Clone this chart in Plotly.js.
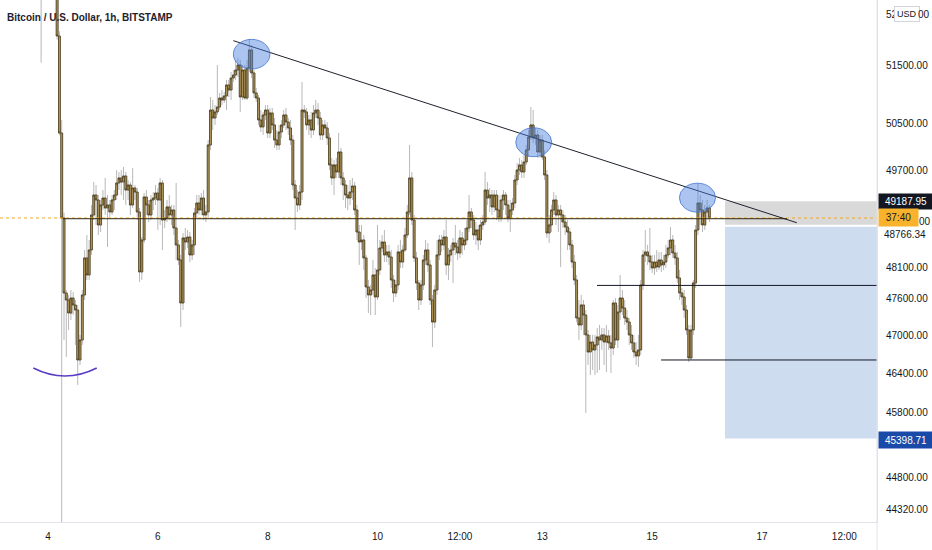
<!DOCTYPE html>
<html>
<head>
<meta charset="utf-8">
<script src="https://cdn.plot.ly/plotly-3.0.1.min.js"></script>
<style>html,body{margin:0;padding:0;background:#fff;}#chart{width:932px;height:550px;}</style>
</head>
<body>
<div id="chart"></div>
<script>
// Hourly bars, BTC/USD Bitstamp, starting 2021-12-03 16:00 (one bar per hour)
const firstBar = '2021-12-03T16:00:00Z';

const open = [53900,53800,53500,53200,53400,53300,53100,53000,52900,53500,53700,53300,
53200,52016,50338,48912,47688,47575,47366,47607,47495,47414,46620,46936,47656,48256,47979,48386,
48962,49294,49211,48797,49128,49244,49078,49128,49012,49211,49294,49495,49579,49511,49612,49377,
49461,49128,49411,49344,49012,48028,48550,49261,49128,48962,49211,49244,49327,49211,49495,48879,
48912,49095,48962,49045,48747,48468,48223,47527,48583,48517,48599,48305,48468,48995,49161,49045,
49244,48962,49012,50135,50731,50594,50697,50783,50937,50903,50972,51162,51075,51283,51335,51422,
51509,50955,51422,50937,51457,51771,51370,51024,50937,50560,50441,50646,50731,50338,50680,50475,
50219,50135,50355,50475,50646,50526,50424,50219,49461,49244,49128,49344,50731,50697,50475,50560,
50389,50680,50731,50594,50304,50475,50424,50253,49797,49579,49797,49679,50016,49579,49461,49294,
49244,49344,49444,49045,48681,48517,48550,48256,47785,47656,47736,47979,47624,48060,48419,48517,
48305,48354,48272,47898,47688,47817,48354,48190,48386,48632,49012,49579,48879,48256,47850,47575,
47817,48223,48386,48142,47575,47222,47736,48305,48550,48468,48599,48142,48305,48386,48501,48435,
48337,48583,48468,48550,48747,49012,48879,48632,48714,48550,48797,48846,49377,49244,49294,49095,
49294,49045,48912,49211,49294,49128,48912,49045,49161,49545,49712,49797,49679,49847,50050,50270,
50475,50253,50304,50016,50219,49932,49629,48665,48797,49045,49211,48962,49045,48962,48846,48764,
48681,48468,48190,47898,47286,47175,47495,47334,47016,46746,46904,46778,46857,46984,46936,47016,
46904,47000,46889,46809,47527,46936,47382,47607,47446,47286,47222,47016,46889,46746,46683,46778,
47817,48305,48354,48288,48190,48093,48190,48109,48223,48142,48190,48305,48419,48550,48337,48256,
47930,47688,47624,47414,47095,46652,47095,47850,48714,49161,49045,48797,49012,49078];

const high = [54200,54000,53700,53600,53700,53500,53400,53300,53600,53900,53800,53500,
53400,52100,50560,49000,47736,47656,47736,47704,47575,47495,47016,47736,48386,48632,48550,49128,
49511,49461,49294,49211,49377,49579,49294,49211,49294,49377,49712,49679,49712,49763,49679,49545,
49511,49746,49461,49411,49078,48600,49330,49377,49211,49294,49344,49461,49411,49579,49545,49045,
49211,49294,49128,49128,49495,48550,48305,48665,48747,48714,48681,48550,49078,49294,49294,49327,
49377,49128,50219,50955,50903,50817,51509,51024,51075,51041,51248,51248,51387,51422,51596,51631,
51596,51509,51509,51596,51964,51858,51422,51110,50989,50731,50697,50817,50817,50766,50766,50594,
50389,50475,50560,50731,50766,50594,50560,50304,49545,49377,49461,51214,50817,50766,50646,50697,
50817,50903,50852,50697,50560,50560,50526,50338,49915,49881,49915,50338,50084,49679,49545,49461,
49545,49579,49511,49128,48797,48797,48632,48305,47898,47817,48223,48093,48797,48550,48632,48714,
48468,48468,48386,47979,47898,48468,48550,48468,48747,49128,50135,49679,48962,48354,47898,47898,
48305,48550,48501,48223,47656,47817,48550,48632,48632,48714,48879,48419,48468,48583,48797,48550,
48714,48681,48747,48879,49294,49078,48962,48846,48797,48879,48962,49679,49511,49411,49377,49377,
49377,49294,49294,49377,49344,49211,49211,49244,49629,49830,49915,49881,49966,50135,50389,50783,
50731,50424,50389,50304,50304,50050,49712,48962,49128,49344,49294,49128,49128,49045,48962,48879,
48747,48550,48305,47979,47575,47656,47575,47414,47095,47016,47016,47016,47127,47175,47127,47127,
47175,47095,47016,47575,47607,47495,47979,47736,47575,47414,47286,47175,47016,46904,47016,47898,
48386,48714,48468,48747,48305,48305,48386,48354,48354,48305,48468,48550,48764,48632,48468,48354,
48060,47769,47736,47495,47175,47175,47898,48797,49495,49294,49211,49128,49211,49128];

const low = [53600,53300,53000,52900,53100,51550,52800,52700,52800,53300,53200,52900,
51950,50300,42000,46936,46667,47095,47254,47334,46857,46228,46541,46857,47575,47898,47898,48305,
48879,48797,48632,48681,49045,48962,48435,48929,48962,49045,49211,49377,49294,49211,49128,49211,
48962,49078,49211,48879,47866,47900,48500,48962,48846,48879,49045,49128,48714,48797,48386,48747,
48846,48879,48797,48632,48223,48142,47143,47414,48386,48419,48190,48223,48305,48912,48962,48962,
48879,48846,48912,50050,50389,50475,50646,50731,50817,50852,50731,50955,50903,51214,51248,51300,
50697,50903,50903,50903,51387,51283,50937,50869,50475,50355,50304,50560,50253,50253,50389,50084,
50050,50050,50253,50424,50389,50304,50135,49377,48714,49012,49045,49211,50594,50389,50304,50253,
50304,50594,50475,50219,50219,50304,50135,49712,49461,49294,49579,49579,49461,49211,49078,49045,
49128,49211,48962,48550,48142,48386,48060,47607,47366,47334,47656,47334,47575,47979,48354,48190,
48190,48142,47769,47543,47624,47736,48093,48093,48354,48583,48962,48797,48190,47736,47414,47495,
47736,48142,48028,47495,46825,47127,47656,48223,48354,48386,47979,47898,48190,47850,48305,48223,
48256,48305,48386,48468,48681,48747,48550,48468,48386,48468,48714,48797,49128,49012,48962,49012,
48879,48846,48846,49045,48962,48846,48681,48962,49078,49461,49629,49579,49579,49797,49932,50219,
50168,50135,49915,49915,49881,49545,48583,48501,48681,48962,48797,48681,48109,48747,48632,48386,
48386,48093,47817,47222,46936,47095,47016,45792,46541,46384,46462,46384,46415,46462,46778,46541,
46431,46778,46415,46699,46857,46809,47254,47334,47175,47095,46857,46778,46652,46541,46510,46699,
47736,48190,48142,48060,48012,47979,48028,48060,48028,48060,48093,48256,48305,48256,48142,47850,
47575,47495,47286,47016,46588,46620,47016,47769,48632,48797,48681,48714,48912,48846];

const close = [53800,53500,53200,53400,53300,53100,53000,52900,53500,53700,53300,53200,
52016,50338,48912,47688,47575,47366,47607,47495,47414,46620,46936,47656,48256,47979,48386,48962,
49294,49211,48797,49128,49244,49078,49128,49012,49211,49294,49495,49579,49511,49612,49377,49461,
49128,49411,49344,49012,48028,48550,49261,49128,48962,49211,49244,49327,49211,49495,48879,48912,
49095,48962,49045,48747,48468,48223,47527,48583,48517,48599,48305,48468,48995,49161,49045,49244,
48962,49012,50135,50731,50594,50697,50783,50937,50903,50972,51162,51075,51283,51335,51422,51509,
50955,51422,50937,51457,51771,51370,51024,50937,50560,50441,50646,50731,50338,50680,50475,50219,
50135,50355,50475,50646,50526,50424,50219,49461,49244,49128,49344,50731,50697,50475,50560,50389,
50680,50731,50594,50304,50475,50424,50253,49797,49579,49797,49679,50016,49579,49461,49294,49244,
49344,49444,49045,48681,48517,48550,48256,47785,47656,47736,47979,47624,48060,48419,48517,48305,
48354,48272,47898,47688,47817,48354,48190,48386,48632,49012,49579,48879,48256,47850,47575,47817,
48223,48386,48142,47575,47222,47736,48305,48550,48468,48599,48142,48305,48386,48501,48435,48337,
48583,48468,48550,48747,49012,48879,48632,48714,48550,48797,48846,49377,49244,49294,49095,49294,
49045,48912,49211,49294,49128,48912,49045,49161,49545,49712,49797,49679,49847,50050,50270,50475,
50253,50304,50016,50219,49932,49629,48665,48797,49045,49211,48962,49045,48962,48846,48764,48681,
48468,48190,47898,47286,47175,47495,47334,47016,46746,46904,46778,46857,46984,46936,47016,46904,
47000,46889,46809,47527,46936,47382,47607,47446,47286,47222,47016,46889,46746,46683,46778,47817,
48305,48354,48288,48190,48093,48190,48109,48223,48142,48190,48305,48419,48550,48337,48256,47930,
47688,47624,47414,47095,46652,47095,47850,48714,49161,49045,48797,49012,49078,48912];

// Axis ticks (the 52400 label is partly hidden by the currency badge in the reference)
const yTickVals = [52400, 51500, 50500, 49700, 48100, 47600, 47000, 46400, 45800, 44800, 44320];
const yTickText = ['52', '51500.00', '50500.00', '49700.00', '48100.00', '47600.00', '47000.00', '46400.00', '45800.00', '44800.00', '44320.00'];
const xTickVals = ['2021-12-04','2021-12-06','2021-12-08','2021-12-10','2021-12-11 12:00','2021-12-13','2021-12-15','2021-12-17','2021-12-18 12:00'];
const xTickText = ['4','6','8','10','12:00','13','15','17','12:00'];

// View window
const xRange = ['2021-12-03 03:02', '2021-12-19 02:15'];
const yRange = [44135, 52653];

// Drawings (time, price)
const trendLine = [['2021-12-07 09:00', 51934], ['2021-12-17 15:12', 48834]];
const levelMid = {price: 48900, from: '2021-12-04 06:33', to: '2021-12-17 10:54'};
const levelA = {price: 47810, from: '2021-12-13 23:54'};
const levelB = {price: 46620, from: '2021-12-15 03:54'};
const ellipses = [
  ['2021-12-07 09:00', '2021-12-08 01:00', 51439, 51957],
  ['2021-12-12 12:24', '2021-12-13 04:06', 49937, 50427],
  ['2021-12-15 11:54', '2021-12-16 03:42', 49009, 49491]
];
const position = {from: '2021-12-16 07:48', top: 49187.95, entry: 48766.34, bottom: 45398.71};
const countdown = '37:40';

// ---- build ----
const t0 = Date.parse(firstBar);
const time = close.map((_, i) => new Date(t0 + i * 3600000).toISOString().slice(0, 16).replace('T', ' '));
const bodyHigh = open.map((o, i) => Math.max(o, close[i]));
const bodyLow = open.map((o, i) => Math.min(o, close[i]));
const lastPrice = close[close.length - 1];

const wickCol = '#b8b8b8';
const bodyFill = '#b89d62';
const bodyLine = '#4a3c1a';

const traces = [
  {type: 'candlestick', x: time, open: open, high: high, low: low, close: close,
   increasing: {line: {color: wickCol, width: 1}, fillcolor: wickCol},
   decreasing: {line: {color: wickCol, width: 1}, fillcolor: wickCol},
   hoverinfo: 'skip', showlegend: false},
  {type: 'candlestick', x: time, open: open, high: bodyHigh, low: bodyLow, close: close,
   increasing: {line: {color: bodyLine, width: 0.8}, fillcolor: bodyFill},
   decreasing: {line: {color: bodyLine, width: 0.8}, fillcolor: bodyFill},
   hoverinfo: 'skip', showlegend: false}
];

const shapes = [];
// position tool
shapes.push({type: 'rect', xref: 'x', yref: 'y', x0: position.from, x1: xRange[1], y0: 48800, y1: position.top,
  fillcolor: '#d9d9d9', line: {width: 0}, layer: 'below'});
shapes.push({type: 'rect', xref: 'x', yref: 'y', x0: position.from, x1: xRange[1], y0: position.bottom, y1: position.entry,
  fillcolor: 'rgb(205,220,239)', line: {width: 0}, layer: 'below'});
// current price dotted
shapes.push({type: 'line', xref: 'paper', yref: 'y', x0: 0, x1: 1, y0: lastPrice, y1: lastPrice,
  line: {color: '#f5a623', width: 1, dash: 'dot'}});
// levels
shapes.push({type: 'line', xref: 'x', yref: 'y', x0: levelMid.from, x1: levelMid.to, y0: levelMid.price, y1: levelMid.price,
  line: {color: '#2b2716', width: 1}});
shapes.push({type: 'line', xref: 'x', yref: 'y', x0: levelA.from, x1: xRange[1], y0: levelA.price, y1: levelA.price,
  line: {color: '#131722', width: 1}});
shapes.push({type: 'line', xref: 'x', yref: 'y', x0: levelB.from, x1: xRange[1], y0: levelB.price, y1: levelB.price,
  line: {color: '#131722', width: 1}});
// trend line
shapes.push({type: 'line', xref: 'x', yref: 'y', x0: trendLine[0][0], y0: trendLine[0][1], x1: trendLine[1][0], y1: trendLine[1][1],
  line: {color: '#1e222d', width: 1}});
// ellipses
ellipses.forEach(e => shapes.push({type: 'circle', xref: 'x', yref: 'y', x0: e[0], x1: e[1], y0: e[2], y1: e[3],
  fillcolor: 'rgba(72,126,222,0.45)', line: {color: 'rgba(60,110,205,0.75)', width: 1}}));
// purple arc under the low
shapes.push({type: 'path', xref: 'paper', yref: 'paper',
  path: 'M0.038,0.295 Q0.0741,0.2644 0.1103,0.295', line: {color: '#5b3cc4', width: 1.6}});
// right border through the time scale
shapes.push({type: 'line', xref: 'paper', yref: 'paper', x0: 1, x1: 1, y0: -0.06, y1: 1,
  line: {color: '#e0e3eb', width: 1}});

const lbl = {family: 'Liberation Sans, Arial, sans-serif', size: 10};
const annotations = [
  {xref: 'paper', yref: 'y', x: 1, xanchor: 'left', xshift: 1, y: Math.log10(position.top), yanchor: 'middle',
   text: position.top.toFixed(2), showarrow: false, bgcolor: '#131722', font: Object.assign({}, lbl, {color: '#ffffff'}),
   width: 50, height: 11, borderpad: 2, align: 'center'},
  {xref: 'paper', yref: 'y', x: 1, xanchor: 'left', xshift: 1, y: Math.log10(48920), yanchor: 'middle',
   text: countdown, showarrow: false, bgcolor: '#f8b22c', font: Object.assign({}, lbl, {color: '#131722'}),
   width: 35, height: 13, borderpad: 2, align: 'center'},
  // visible tail of the price-scale label behind the countdown box
  {xref: 'paper', yref: 'y', x: 1, xanchor: 'left', xshift: 41, y: Math.log10(48850), yanchor: 'middle',
   text: '00', showarrow: false, font: Object.assign({}, lbl, {color: '#131722'}), borderpad: 0},
  {xref: 'paper', yref: 'y', x: 1, xanchor: 'left', xshift: 1, y: Math.log10(position.entry), yanchor: 'middle', yshift: -8,
   text: position.entry.toFixed(2), showarrow: false, bgcolor: '#ffffff', font: Object.assign({}, lbl, {color: '#131722'}),
   width: 50, height: 11, borderpad: 1, align: 'center'},
  {xref: 'paper', yref: 'y', x: 1, xanchor: 'left', xshift: 1, y: Math.log10(position.bottom), yanchor: 'middle', yshift: -2,
   text: position.bottom.toFixed(2), showarrow: false, bgcolor: '#1a4aa8', font: Object.assign({}, lbl, {color: '#ffffff'}),
   width: 50, height: 12, borderpad: 2, align: 'center'},
  {xref: 'paper', yref: 'paper', x: 1, xanchor: 'left', xshift: 17, y: 1, yanchor: 'top', yshift: -6,
   text: 'USD', showarrow: false, bgcolor: '#ffffff', bordercolor: '#d1d4dc', borderwidth: 1, borderpad: 2,
   font: {family: 'Liberation Sans, Arial, sans-serif', size: 9, color: '#131722'}},
  // visible tail of the top price-scale label behind the badge
  {xref: 'paper', yref: 'y', x: 1, xanchor: 'left', xshift: 40, y: Math.log10(52400), yanchor: 'middle',
   text: '00', showarrow: false, font: Object.assign({}, lbl, {color: '#131722'}), borderpad: 0}
];

const layout = {
  width: 932, height: 550,
  margin: {l: 0, r: 55, t: 0, b: 28, pad: 0},
  paper_bgcolor: '#ffffff', plot_bgcolor: '#ffffff',
  showlegend: false, hovermode: false,
  boxmode: 'overlay', boxgap: 0.1, boxgroupgap: 0.1,
  title: {text: '<b>Bitcoin / U.S. Dollar, 1h, BITSTAMP</b>', xref: 'container', yref: 'container',
    x: 7 / 932, xanchor: 'left', y: 1 - 17 / 550, yanchor: 'middle',
    font: {family: 'Liberation Sans, Arial, sans-serif', size: 10, color: '#1e222d'}},
  xaxis: {type: 'date', range: xRange, rangeslider: {visible: false}, fixedrange: true,
    showgrid: false, zeroline: false, showline: true, linecolor: '#e0e3eb', linewidth: 1,
    tickmode: 'array', tickvals: xTickVals, ticktext: xTickText, ticks: '', ticklabelstandoff: 5,
    tickfont: lbl, color: '#131722', automargin: false},
  yaxis: {type: 'log', side: 'right', range: yRange.map(v => Math.log10(v)), fixedrange: true,
    showgrid: false, zeroline: false, showline: true, linecolor: '#e0e3eb', linewidth: 1,
    tickmode: 'array', tickvals: yTickVals, ticktext: yTickText, ticks: '',
    ticklabelstandoff: 6, tickfont: lbl, color: '#131722', automargin: false},
  shapes: shapes,
  annotations: annotations
};

Plotly.newPlot('chart', traces, layout, {staticPlot: true, displayModeBar: false});
</script>
</body>
</html>
